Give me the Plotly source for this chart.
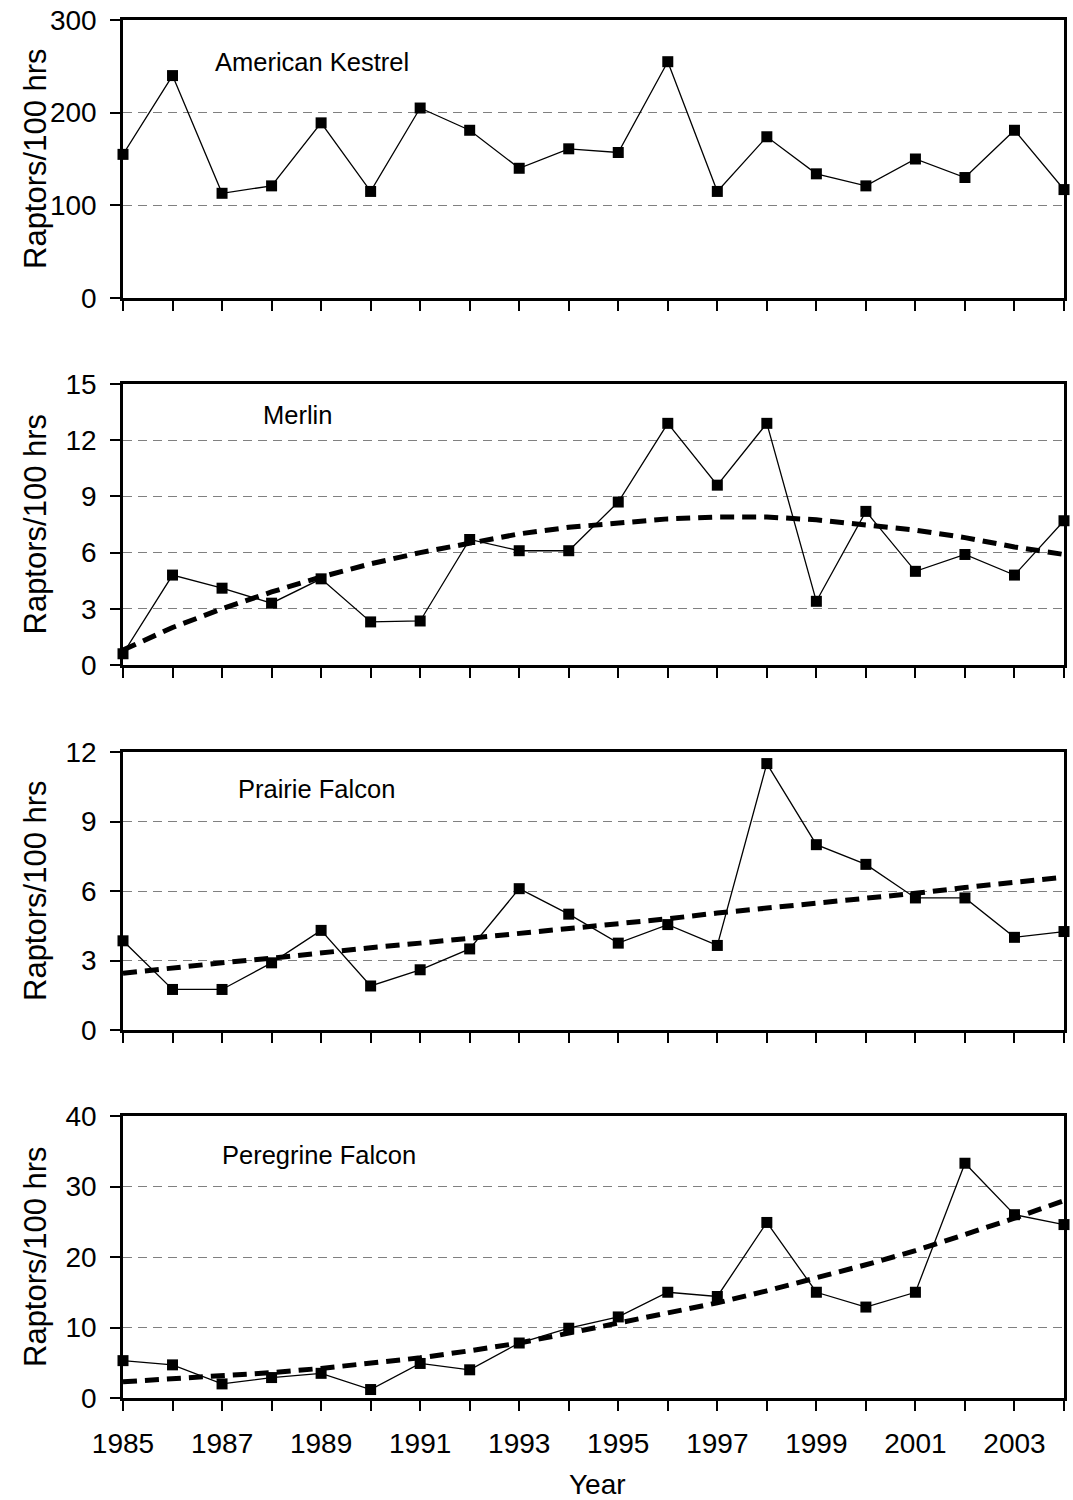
import plotly.graph_objects as go

years = list(range(1985, 2005))
year_labels = [str(y) if y % 2 == 1 else "" for y in years]

species = ["American Kestrel", "Merlin", "Prairie Falcon", "Peregrine Falcon"]

kestrel = [155, 240, 113, 121, 189, 115, 205, 181, 140, 161,
           157, 255, 115, 174, 134, 121, 150, 130, 181, 117]
merlin = [0.6, 4.8, 4.1, 3.3, 4.6, 2.3, 2.35, 6.7, 6.1, 6.1,
          8.7, 12.9, 9.6, 12.9, 3.4, 8.2, 5.0, 5.9, 4.8, 7.7]
prairie = [3.85, 1.75, 1.75, 2.9, 4.3, 1.9, 2.6, 3.5, 6.1, 5.0,
           3.75, 4.55, 3.65, 11.5, 8.0, 7.15, 5.7, 5.7, 4.0, 4.25]
peregrine = [5.3, 4.7, 2.0, 2.9, 3.5, 1.2, 4.9, 4.0, 7.8, 9.9,
             11.5, 15.0, 14.4, 24.9, 15.0, 12.9, 15.0, 33.3, 26.0, 24.6]

merlin_trend = [0.8, 2.0, 3.0, 3.9, 4.7, 5.4, 6.0, 6.5, 7.0, 7.35,
                7.6, 7.8, 7.9, 7.9, 7.75, 7.5, 7.2, 6.8, 6.3, 5.9]
prairie_trend = [2.45, 2.7, 2.9, 3.1, 3.35, 3.55, 3.75, 3.95, 4.2, 4.4,
                 4.6, 4.8, 5.05, 5.25, 5.5, 5.7, 5.9, 6.15, 6.35, 6.6]
peregrine_trend = [2.3, 2.7, 3.1, 3.6, 4.2, 4.9, 5.7, 6.7, 7.8, 9.2,
                   10.6, 12.0, 13.5, 15.2, 17.0, 18.9, 20.9, 23.2, 25.5, 28.0]

y_ranges = [[0, 300], [0, 15], [0, 12], [0, 40]]
y_ticks = [[0, 100, 200, 300], [0, 3, 6, 9, 12, 15], [0, 3, 6, 9, 12], [0, 10, 20, 30, 40]]

series = [kestrel, merlin, prairie, peregrine]
trends = [None, merlin_trend, prairie_trend, peregrine_trend]

W, H = 1073, 1500
L, R, T, B = 123, 9, 20, 102
plot_h = H - T - B
plot_w = W - L - R
panels_px = [(20, 298), (384, 665), (752, 1030), (1116, 1398)]

def py(p):
    return 1 - (p - T) / plot_h

def px(p):
    return (p - L) / plot_w

fig = go.Figure()
FONT = "Liberation Sans, Arial, sans-serif"
label_pos = [(213, 62), (261, 415), (236, 789), (220, 1155)]

for i in range(4):
    xa = "x" if i == 0 else f"x{i+1}"
    ya = "y" if i == 0 else f"y{i+1}"
    if trends[i] is not None:
        fig.add_trace(go.Scatter(x=years, y=trends[i], mode="lines",
                                 line=dict(color="black", width=5, dash="14px,8px"),
                                 xaxis=xa, yaxis=ya, showlegend=False, cliponaxis=False))
    fig.add_trace(go.Scatter(x=years, y=series[i], mode="lines+markers",
                             line=dict(color="black", width=1.3),
                             marker=dict(symbol="square", size=11, color="black"),
                             xaxis=xa, yaxis=ya, showlegend=False, cliponaxis=False))
    top, bot = panels_px[i]
    xkey = "xaxis" if i == 0 else f"xaxis{i+1}"
    ykey = "yaxis" if i == 0 else f"yaxis{i+1}"
    fig.layout[xkey] = dict(
        domain=[0, 1], anchor=ya, range=[1985, 2004],
        tickmode="array", tickvals=years, ticktext=year_labels,
        showticklabels=(i == 3), ticks="outside", ticklen=10, tickwidth=1.5,
        tickcolor="black", showline=True, linecolor="black", linewidth=2.5,
        mirror=True, showgrid=False, zeroline=False, automargin=False,
        tickfont=dict(family=FONT, size=28, color="black"),
        ticklabelstandoff=9,
    )
    fig.layout[ykey] = dict(
        domain=[py(bot), py(top)], anchor=xa, range=y_ranges[i],
        tickmode="array", tickvals=y_ticks[i],
        ticks="outside", ticklen=10, tickwidth=1.5, tickcolor="black",
        showline=True, linecolor="black", linewidth=2.5, mirror=True,
        showgrid=True, gridcolor="#808080", gridwidth=1, griddash="9px,6px",
        zeroline=False, automargin=False,
        tickfont=dict(family=FONT, size=28, color="black"),
        ticklabelstandoff=8,
    )
    lx, ly = label_pos[i]
    fig.add_annotation(text=species[i], xref="paper", yref="paper",
                       x=px(lx), y=py(ly), xanchor="left", yanchor="middle",
                       showarrow=False, font=dict(family=FONT, size=25.5, color="black"))
    fig.add_annotation(text="Raptors/100 hrs", xref="paper", yref="paper",
                       x=px(35), y=py((top + bot) / 2),
                       xanchor="center", yanchor="middle", textangle=-90,
                       showarrow=False, font=dict(family=FONT, size=31, color="black"))

fig.add_annotation(text="Year", xref="paper", yref="paper",
                   x=px(597), y=py(1484), xanchor="center", yanchor="middle",
                   showarrow=False, font=dict(family=FONT, size=28, color="black"))

fig.update_layout(width=W, height=H, margin=dict(l=L, r=R, t=T, b=B),
                  plot_bgcolor="white", paper_bgcolor="white")

fig.write_html("out.html", config={"displayModeBar": False},
               post_script="document.body.style.margin='0';document.body.style.overflow='hidden';")
